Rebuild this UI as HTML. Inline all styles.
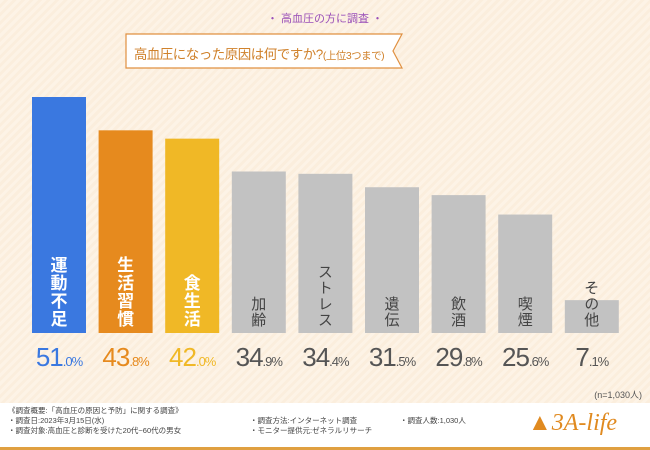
<!DOCTYPE html>
<html><head><meta charset="utf-8"><style>
body{margin:0;width:650px;height:450px;overflow:hidden;font-family:"Liberation Sans","Noto Sans CJK JP",sans-serif;}
#root{position:relative;width:650px;height:450px;background:repeating-linear-gradient(135deg,#fdf3e6 0 3px,#fbeedd 3px 6px);}
.abs{position:absolute}
</style></head><body>
<div id="root">
<div class="abs" style="left:0;width:650px;top:10px;text-align:center;color:#9a50b8;font-size:11px;">・ 高血圧の方に調査 ・</div>
<svg class="abs" style="left:0;top:0" width="650" height="450">
<polygon points="126,34 402,34 393,51 402,68 126,68" fill="#fff" stroke="#e09040" stroke-width="1.2"/>
</svg>
<div class="abs" style="left:128px;width:262px;top:43px;text-align:center;color:#d0822c;font-size:13.5px;white-space:nowrap;letter-spacing:-0.5px;">高血圧になった原因は何ですか?<span style="font-size:10.5px">(上位3つまで)</span></div>
<svg id="plot" class="abs" style="left:0;top:0" width="650" height="450"></svg>
<div class="abs" style="right:8px;top:388px;font-size:9px;color:#555;">(n=1,030人)</div>
<div class="abs" style="left:0;top:403px;width:650px;height:44px;background:#fff;border-bottom:3px solid #e0a040;font-size:7.5px;color:#444;line-height:10px;">
<div class="abs" style="left:8px;top:3px">《調査概要:「高血圧の原因と予防」に関する調査》<br>・調査日:2023年3月15日(水)<br>・調査対象:高血圧と診断を受けた20代~60代の男女</div>
<div class="abs" style="left:250px;top:13px">・調査方法:インターネット調査<br>・モニター提供元:ゼネラルリサーチ</div>
<div class="abs" style="left:400px;top:13px">・調査人数:1,030人</div>
<div class="abs" style="left:528px;top:6px;font-family:'Liberation Serif',serif;font-style:italic;font-size:24px;color:#e08a20;line-height:28px;">▲3A-life</div>
</div>
</div>
<script>
const categories=["運動不足","生活習慣","食生活","加齢","ストレス","遺伝","飲酒","喫煙","その他"];
const values=[51.0,43.8,42.0,34.9,34.4,31.5,29.8,25.6,7.1];
const colors=["#3a78e0","#e68a1e","#f0b826","#c2c2c2","#c2c2c2","#c2c2c2","#c2c2c2","#c2c2c2","#c2c2c2"];
const textColors=["#3a78e0","#e68a1e","#f0b826","#555","#555","#555","#555","#555","#555"];
const svg=document.getElementById('plot');
const NS="http://www.w3.org/2000/svg";
const base=333, scale=236/51;
const xPos=i=>32+i*66.6;
const yPos=v=>base-v*scale;
values.forEach((v,i)=>{
 const r=document.createElementNS(NS,'rect');
 r.setAttribute('x',xPos(i));r.setAttribute('y',yPos(v));r.setAttribute('width',54);r.setAttribute('height',base-yPos(v));r.setAttribute('fill',colors[i]);
 
 
 svg.appendChild(r);
 const t=document.createElementNS(NS,'text');
 t.setAttribute('x',xPos(i)+27);t.setAttribute('y',base-5);
 t.setAttribute('writing-mode','tb');t.setAttribute('text-anchor','end');
 t.setAttribute('fill',i<3?'#fff':'#444');t.setAttribute('font-size',i<3?'17':'15');t.setAttribute('font-weight',i<3?'bold':'normal');
 t.setAttribute('letter-spacing','1');
 t.setAttribute('font-family','"Noto Sans CJK JP",sans-serif');
 t.textContent=categories[i];
 
 
 svg.appendChild(t);
 const vt=document.createElementNS(NS,'text');
 vt.setAttribute('x',xPos(i)+27);vt.setAttribute('y',366);vt.setAttribute('text-anchor','middle');
 vt.setAttribute('fill',textColors[i]);
 vt.setAttribute('letter-spacing','-1');
 const s=v.toFixed(1).split('.');
 vt.innerHTML='<tspan font-size="26">'+s[0]+'</tspan><tspan font-size="13">.'+s[1]+'%</tspan>';
 
 
 svg.appendChild(vt);
});
</script>
</body></html>
